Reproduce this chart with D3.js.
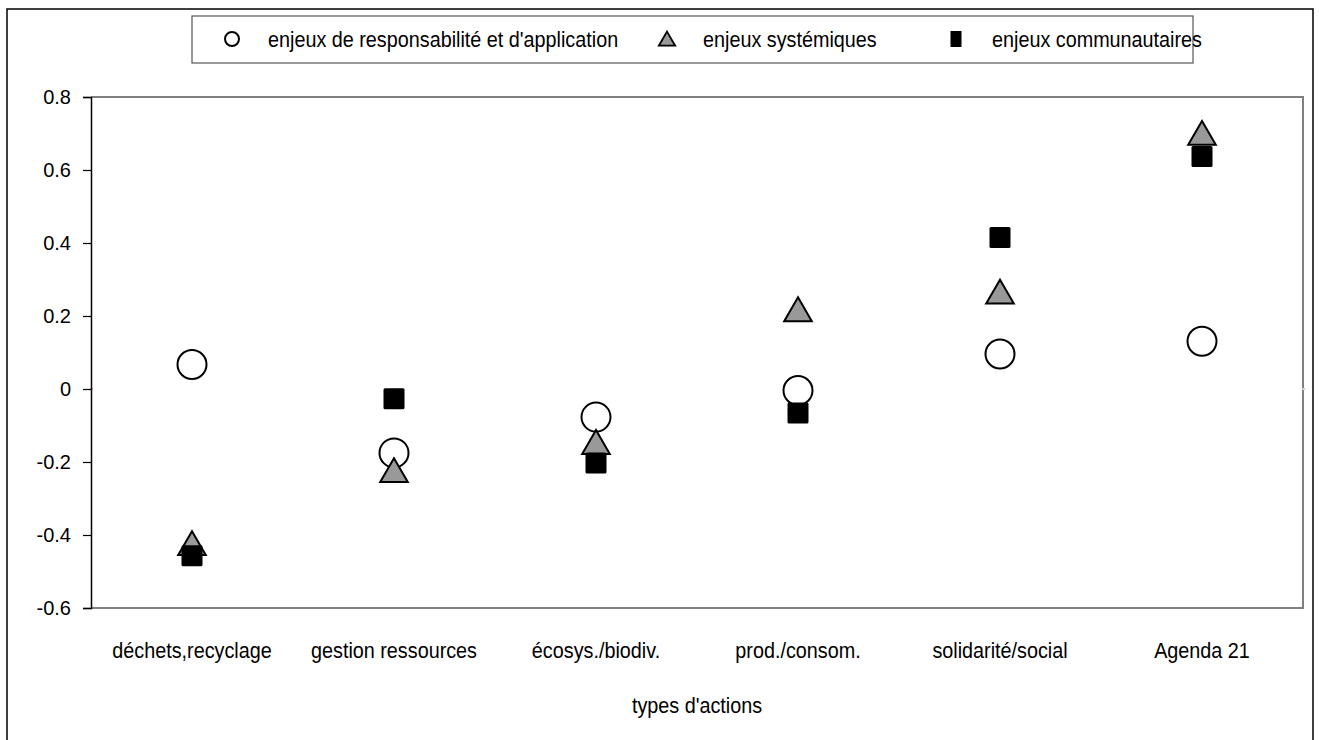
<!DOCTYPE html>
<html>
<head>
<meta charset="utf-8">
<script src="https://cdn.jsdelivr.net/npm/d3@7"></script>
<style>
  html, body { margin: 0; padding: 0; background: #fff; }
  svg { display: block; font-family: 'Liberation Sans', Arial, sans-serif; }
</style>
</head>
<body>
<svg id="chart" width="1319" height="740"></svg>
<script>
// types d'actions (axe des x)
const categories = ['déchets,recyclage', 'gestion ressources', 'écosys./biodiv.', 'prod./consom.', 'solidarité/social', 'Agenda 21'];

// valeurs
const responsabilite = [0.067, -0.175, -0.077, -0.004, 0.096, 0.131];
const systemiques    = [-0.425, -0.225, -0.148, 0.216, 0.264, 0.699];
const communautaires = [-0.457, -0.027, -0.203, -0.066, 0.415, 0.637];

const seriesNames = ["enjeux de responsabilité et d'application", 'enjeux systémiques', 'enjeux communautaires'];
const yTicks = [-0.6, -0.4, -0.2, 0, 0.2, 0.4, 0.6, 0.8];
const xTitle = "types d'actions";

const svg = d3.select('#chart');
const m = { left: 91, right: 1303, top: 97, bottom: 608 };

// texte un peu étroit (la police d'origine est condensée)
function narrowText(parent, px, py, str, anchor) {
  return parent.append('text')
    .attr('transform', `translate(${px},${py}) scale(0.9,1)`)
    .attr('text-anchor', anchor || 'start')
    .attr('font-size', 22)
    .attr('fill', '#000')
    .text(str);
}

// cadre extérieur
svg.append('rect')
  .attr('x', 7).attr('y', 9).attr('width', 1306).attr('height', 760)
  .attr('fill', 'none').attr('stroke', '#000').attr('stroke-width', 1.5);

const x = d3.scaleBand().domain(categories).range([m.left, m.right]);
const y = d3.scaleLinear().domain([-0.6, 0.8]).range([m.bottom, m.top]);

// bord de la zone de tracé (gris)
svg.append('path')
  .attr('d', `M${m.left},${m.top}H${m.right}V${m.bottom}H${m.left}`)
  .attr('fill', 'none').attr('stroke', '#808080').attr('stroke-width', 2);

// petites marques claires au niveau de 0
[m.left - 1, m.right - 1].forEach(px => {
  svg.append('line').attr('x1', px).attr('x2', px + 3).attr('y1', y(0)).attr('y2', y(0))
    .attr('stroke', '#d0d0d0').attr('stroke-width', 2);
});

// axe des y
const fmt = v => v === 0 ? '0' : String(v);
const yAxis = svg.append('g')
  .attr('transform', `translate(${m.left},0)`)
  .call(d3.axisLeft(y).tickValues(yTicks).tickFormat(fmt).tickSize(8).tickPadding(12));
yAxis.select('.domain').attr('stroke', '#000').attr('stroke-width', 1.5);
yAxis.selectAll('.tick line').attr('stroke', '#000').attr('stroke-width', 1.2);
yAxis.selectAll('.tick text')
  .attr('font-family', null)
  .attr('font-size', 20).attr('fill', '#000');

// libellés des catégories
const xLab = svg.append('g');
categories.forEach(c => narrowText(xLab, x(c) + x.bandwidth() / 2, 658, c, 'middle'));

narrowText(svg, (m.left + m.right) / 2, 713, xTitle, 'middle');

// symboles
const cx = (d, i) => x(categories[i]) + x.bandwidth() / 2;

svg.append('g').selectAll('circle')
  .data(responsabilite)
  .join('circle')
  .attr('cx', cx)
  .attr('cy', d => y(d))
  .attr('r', 14.5)
  .attr('fill', '#fff').attr('stroke', '#000').attr('stroke-width', 2);

svg.append('g').selectAll('path')
  .data(systemiques)
  .join('path')
  .attr('d', d3.symbol().type(d3.symbolTriangle).size(330))
  .attr('transform', (d, i) => `translate(${cx(d, i)},${y(d) + 3})`)
  .attr('fill', '#999999').attr('stroke', '#000').attr('stroke-width', 2).attr('stroke-linejoin', 'miter');

svg.append('g').selectAll('rect')
  .data(communautaires)
  .join('rect')
  .attr('x', (d, i) => cx(d, i) - 10.5)
  .attr('y', d => y(d) - 10.5)
  .attr('width', 21).attr('height', 21).attr('rx', 1.5)
  .attr('fill', '#000');

// légende
const leg = svg.append('g');
leg.append('rect')
  .attr('x', 192).attr('y', 16).attr('width', 1001).attr('height', 47)
  .attr('fill', '#fff').attr('stroke', '#555').attr('stroke-width', 1.2);

const legX = [232, 667, 956];
const ly = 39;
leg.append('circle').attr('cx', legX[0]).attr('cy', ly).attr('r', 7)
  .attr('fill', '#fff').attr('stroke', '#000').attr('stroke-width', 2);
leg.append('path').attr('d', d3.symbol().type(d3.symbolTriangle).size(115))
  .attr('transform', `translate(${legX[1]},${ly + 2})`)
  .attr('fill', '#999999').attr('stroke', '#000').attr('stroke-width', 1.8);
leg.append('rect').attr('x', legX[2] - 5.5).attr('y', ly - 8).attr('width', 11).attr('height', 16)
  .attr('fill', '#000');

seriesNames.forEach((s, i) => narrowText(leg, legX[i] + 36, ly + 8, s));
</script>
</body>
</html>
